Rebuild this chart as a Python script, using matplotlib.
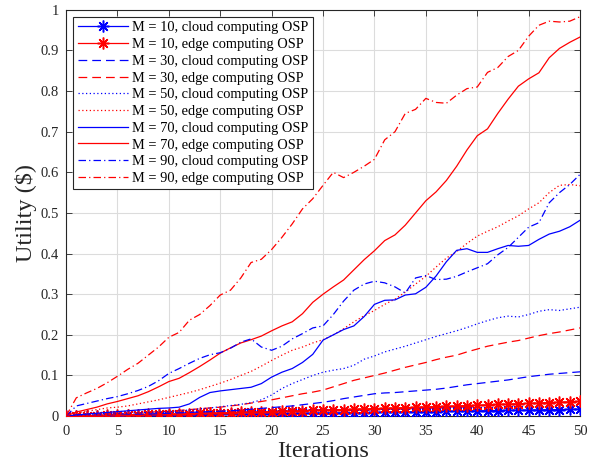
import matplotlib
matplotlib.use("Agg")
import matplotlib.pyplot as plt
import numpy as np

plt.rcParams['font.family'] = ['Liberation Serif', 'DejaVu Serif']
plt.rcParams['mathtext.fontset'] = 'stix'

iterations = list(range(0, 51))

m10_cloud = [0, 0.0003, 0.0005, 0.0008, 0.0010, 0.0013, 0.0016, 0.0018, 0.0021, 0.0024,
             0.0027, 0.0030, 0.0033, 0.0036, 0.0039, 0.0042, 0.0045, 0.0048, 0.0051, 0.0054,
             0.0057, 0.0060, 0.0064, 0.0067, 0.0070, 0.0074, 0.0077, 0.0081, 0.0084, 0.0088,
             0.0091, 0.0095, 0.0098, 0.0102, 0.0106, 0.0110, 0.0113, 0.0117, 0.0121, 0.0125,
             0.0129, 0.0133, 0.0137, 0.0141, 0.0145, 0.0149, 0.0153, 0.0158, 0.0162, 0.0166,
             0.0170]
m10_edge = [0, 0.0005, 0.0010, 0.0014, 0.0019, 0.0024, 0.0029, 0.0034, 0.0040, 0.0045,
            0.0051, 0.0056, 0.0062, 0.0068, 0.0074, 0.0080, 0.0086, 0.0092, 0.0099, 0.0105,
            0.0112, 0.0119, 0.0126, 0.0133, 0.0140, 0.0147, 0.0154, 0.0162, 0.0169, 0.0177,
            0.0185, 0.0192, 0.0200, 0.0208, 0.0217, 0.0225, 0.0233, 0.0242, 0.0250, 0.0259,
            0.0268, 0.0277, 0.0286, 0.0295, 0.0304, 0.0314, 0.0323, 0.0333, 0.0343, 0.0353,
            0.0363]
m30_cloud = [0, 0.001, 0.002, 0.003, 0.003, 0.004, 0.004, 0.005, 0.005, 0.006,
             0.007, 0.008, 0.009, 0.010, 0.011, 0.012, 0.013, 0.015, 0.017, 0.019,
             0.021, 0.023, 0.025, 0.028, 0.031, 0.034, 0.038, 0.043, 0.047, 0.051,
             0.055, 0.057, 0.058, 0.060, 0.062, 0.064, 0.066, 0.069, 0.073, 0.077,
             0.080, 0.083, 0.086, 0.089, 0.093, 0.097, 0.100, 0.103, 0.105, 0.107,
             0.109]
m30_edge = [0, 0.001, 0.002, 0.003, 0.004, 0.005, 0.006, 0.008, 0.009, 0.011,
            0.012, 0.014, 0.016, 0.018, 0.020, 0.022, 0.025, 0.028, 0.032, 0.036,
            0.040, 0.045, 0.050, 0.055, 0.059, 0.064, 0.072, 0.080, 0.088, 0.094,
            0.100, 0.106, 0.113, 0.120, 0.126, 0.132, 0.139, 0.145, 0.150, 0.158,
            0.165, 0.172, 0.177, 0.182, 0.186, 0.192, 0.198, 0.203, 0.207, 0.212,
            0.217]
m50_cloud = [0, 0.002, 0.003, 0.004, 0.005, 0.006, 0.007, 0.008, 0.009, 0.010,
             0.011, 0.013, 0.015, 0.018, 0.020, 0.023, 0.026, 0.029, 0.033, 0.040,
             0.052, 0.068, 0.080, 0.090, 0.100, 0.108, 0.113, 0.117, 0.125, 0.140,
             0.148, 0.158, 0.165, 0.172, 0.180, 0.188, 0.196, 0.203, 0.210, 0.218,
             0.227, 0.235, 0.242, 0.246, 0.244, 0.250, 0.258, 0.262, 0.260, 0.264,
             0.268]
m50_edge = [0, 0.008, 0.012, 0.016, 0.020, 0.022, 0.025, 0.030, 0.035, 0.040,
            0.046, 0.052, 0.058, 0.065, 0.073, 0.081, 0.090, 0.100, 0.110, 0.123,
            0.137, 0.150, 0.162, 0.170, 0.180, 0.188, 0.200, 0.215, 0.232, 0.247,
            0.260, 0.275, 0.288, 0.305, 0.325, 0.344, 0.367, 0.389, 0.405, 0.425,
            0.443, 0.455, 0.466, 0.480, 0.493, 0.510, 0.525, 0.550, 0.568, 0.570,
            0.567]
m70_cloud = [0, 0.003, 0.005, 0.007, 0.009, 0.011, 0.013, 0.015, 0.017, 0.019,
             0.020, 0.022, 0.030, 0.046, 0.058, 0.062, 0.065, 0.068, 0.071, 0.080,
             0.096, 0.108, 0.117, 0.132, 0.152, 0.187, 0.200, 0.213, 0.222, 0.245,
             0.275, 0.285, 0.286, 0.298, 0.301, 0.317, 0.345, 0.380, 0.408, 0.412,
             0.403, 0.403, 0.412, 0.420, 0.418, 0.420, 0.435, 0.448, 0.455, 0.466,
             0.482]
m70_edge = [0, 0.010, 0.016, 0.022, 0.030, 0.036, 0.043, 0.050, 0.060, 0.072,
            0.085, 0.093, 0.107, 0.122, 0.138, 0.155, 0.168, 0.180, 0.188, 0.197,
            0.210, 0.222, 0.232, 0.252, 0.280, 0.300, 0.318, 0.335, 0.360, 0.385,
            0.407, 0.432, 0.446, 0.470, 0.500, 0.530, 0.552, 0.580, 0.615, 0.655,
            0.690, 0.707, 0.745, 0.780, 0.812, 0.830, 0.845, 0.882, 0.905, 0.920,
            0.933]
m90_cloud = [0, 0.025, 0.031, 0.037, 0.043, 0.048, 0.055, 0.063, 0.073, 0.087,
             0.105, 0.117, 0.130, 0.142, 0.151, 0.156, 0.167, 0.182, 0.190, 0.170,
             0.162, 0.172, 0.190, 0.203, 0.217, 0.222, 0.250, 0.283, 0.310, 0.325,
             0.332, 0.328, 0.318, 0.303, 0.340, 0.346, 0.336, 0.337, 0.344, 0.355,
             0.365, 0.375, 0.397, 0.415, 0.440, 0.465, 0.476, 0.525, 0.550, 0.570,
             0.595]
m90_edge = [0, 0.045, 0.057, 0.068, 0.082, 0.098, 0.115, 0.130, 0.150, 0.170,
            0.194, 0.206, 0.236, 0.250, 0.272, 0.298, 0.310, 0.340, 0.378, 0.386,
            0.410, 0.440, 0.473, 0.510, 0.535, 0.568, 0.600, 0.587, 0.600, 0.615,
            0.632, 0.680, 0.700, 0.745, 0.755, 0.782, 0.772, 0.770, 0.790, 0.806,
            0.810, 0.846, 0.858, 0.885, 0.900, 0.935, 0.962, 0.972, 0.970, 0.972,
            0.983]

labels = ["M = 10, cloud computing OSP", "M = 10, edge computing OSP",
          "M = 30, cloud computing OSP", "M = 30, edge computing OSP",
          "M = 50, cloud computing OSP", "M = 50, edge computing OSP",
          "M = 70, cloud computing OSP", "M = 70, edge computing OSP",
          "M = 90, cloud computing OSP", "M = 90, edge computing OSP"]

x_ticks = list(range(0, 51, 5))
y_ticks = [0, 0.1, 0.2, 0.3, 0.4, 0.5, 0.6, 0.7, 0.8, 0.9, 1]
y_tick_labels = ["0", "0.1", "0.2", "0.3", "0.4", "0.5", "0.6", "0.7", "0.8", "0.9", "1"]

fig = plt.figure(figsize=(5.97, 4.67), dpi=100)
ax = fig.add_axes([0.1106, 0.109, 0.861, 0.870])

blue = (0, 0, 1)
red = (1, 0, 0)
lw = 0.9
asterisk = (8, 2, 0)
series = [
    (m10_cloud, blue, '-', asterisk), (m10_edge, red, '-', asterisk),
    (m30_cloud, blue, (0, (7, 4)), None), (m30_edge, red, (0, (7, 4)), None),
    (m50_cloud, blue, (0, (1, 2)), None), (m50_edge, red, (0, (1, 2)), None),
    (m70_cloud, blue, '-', None), (m70_edge, red, '-', None),
    (m90_cloud, blue, (0, (6, 2.5, 1, 2.5)), None), (m90_edge, red, (0, (6, 2.5, 1, 2.5)), None),
]
for (vals, col, ls, mk), lab in zip(series, labels):
    if mk:
        ax.plot(iterations, vals, color=col, linestyle=ls, linewidth=lw, marker=mk,
                markersize=8.5, markeredgewidth=1.1, label=lab, zorder=3)
    else:
        ax.plot(iterations, vals, color=col, linestyle=ls, linewidth=lw, label=lab, zorder=3)

ax.set_xlim(0, 50)
ax.set_ylim(0, 1)
ax.set_xticks(x_ticks)
ax.set_yticks(y_ticks)
ax.set_yticklabels(y_tick_labels)
ax.tick_params(direction='in', top=True, right=True, labelsize=10.5, length=4, width=0.6,
               colors='#262626', pad=5)
ax.tick_params(axis='x', pad=6.5)
ax.grid(True, color='#dcdcdc', linewidth=0.8)
ax.set_axisbelow(True)
for s in ax.spines.values():
    s.set_linewidth(0.8)
    s.set_color('#262626')

ax.set_xlabel("Iterations", fontsize=17.5, color='#262626', labelpad=2)
ax.set_ylabel("Utility ($)", fontsize=17.5, color='#262626', labelpad=3)

leg = ax.legend(loc='upper left', fontsize=10.4, handlelength=3.5, fancybox=False,
                framealpha=1, edgecolor='#262626', borderpad=0.3, labelspacing=0.25,
                handletextpad=0.3, borderaxespad=0.5)
leg.get_frame().set_linewidth(0.8)

fig.savefig("out.png", dpi=100)
